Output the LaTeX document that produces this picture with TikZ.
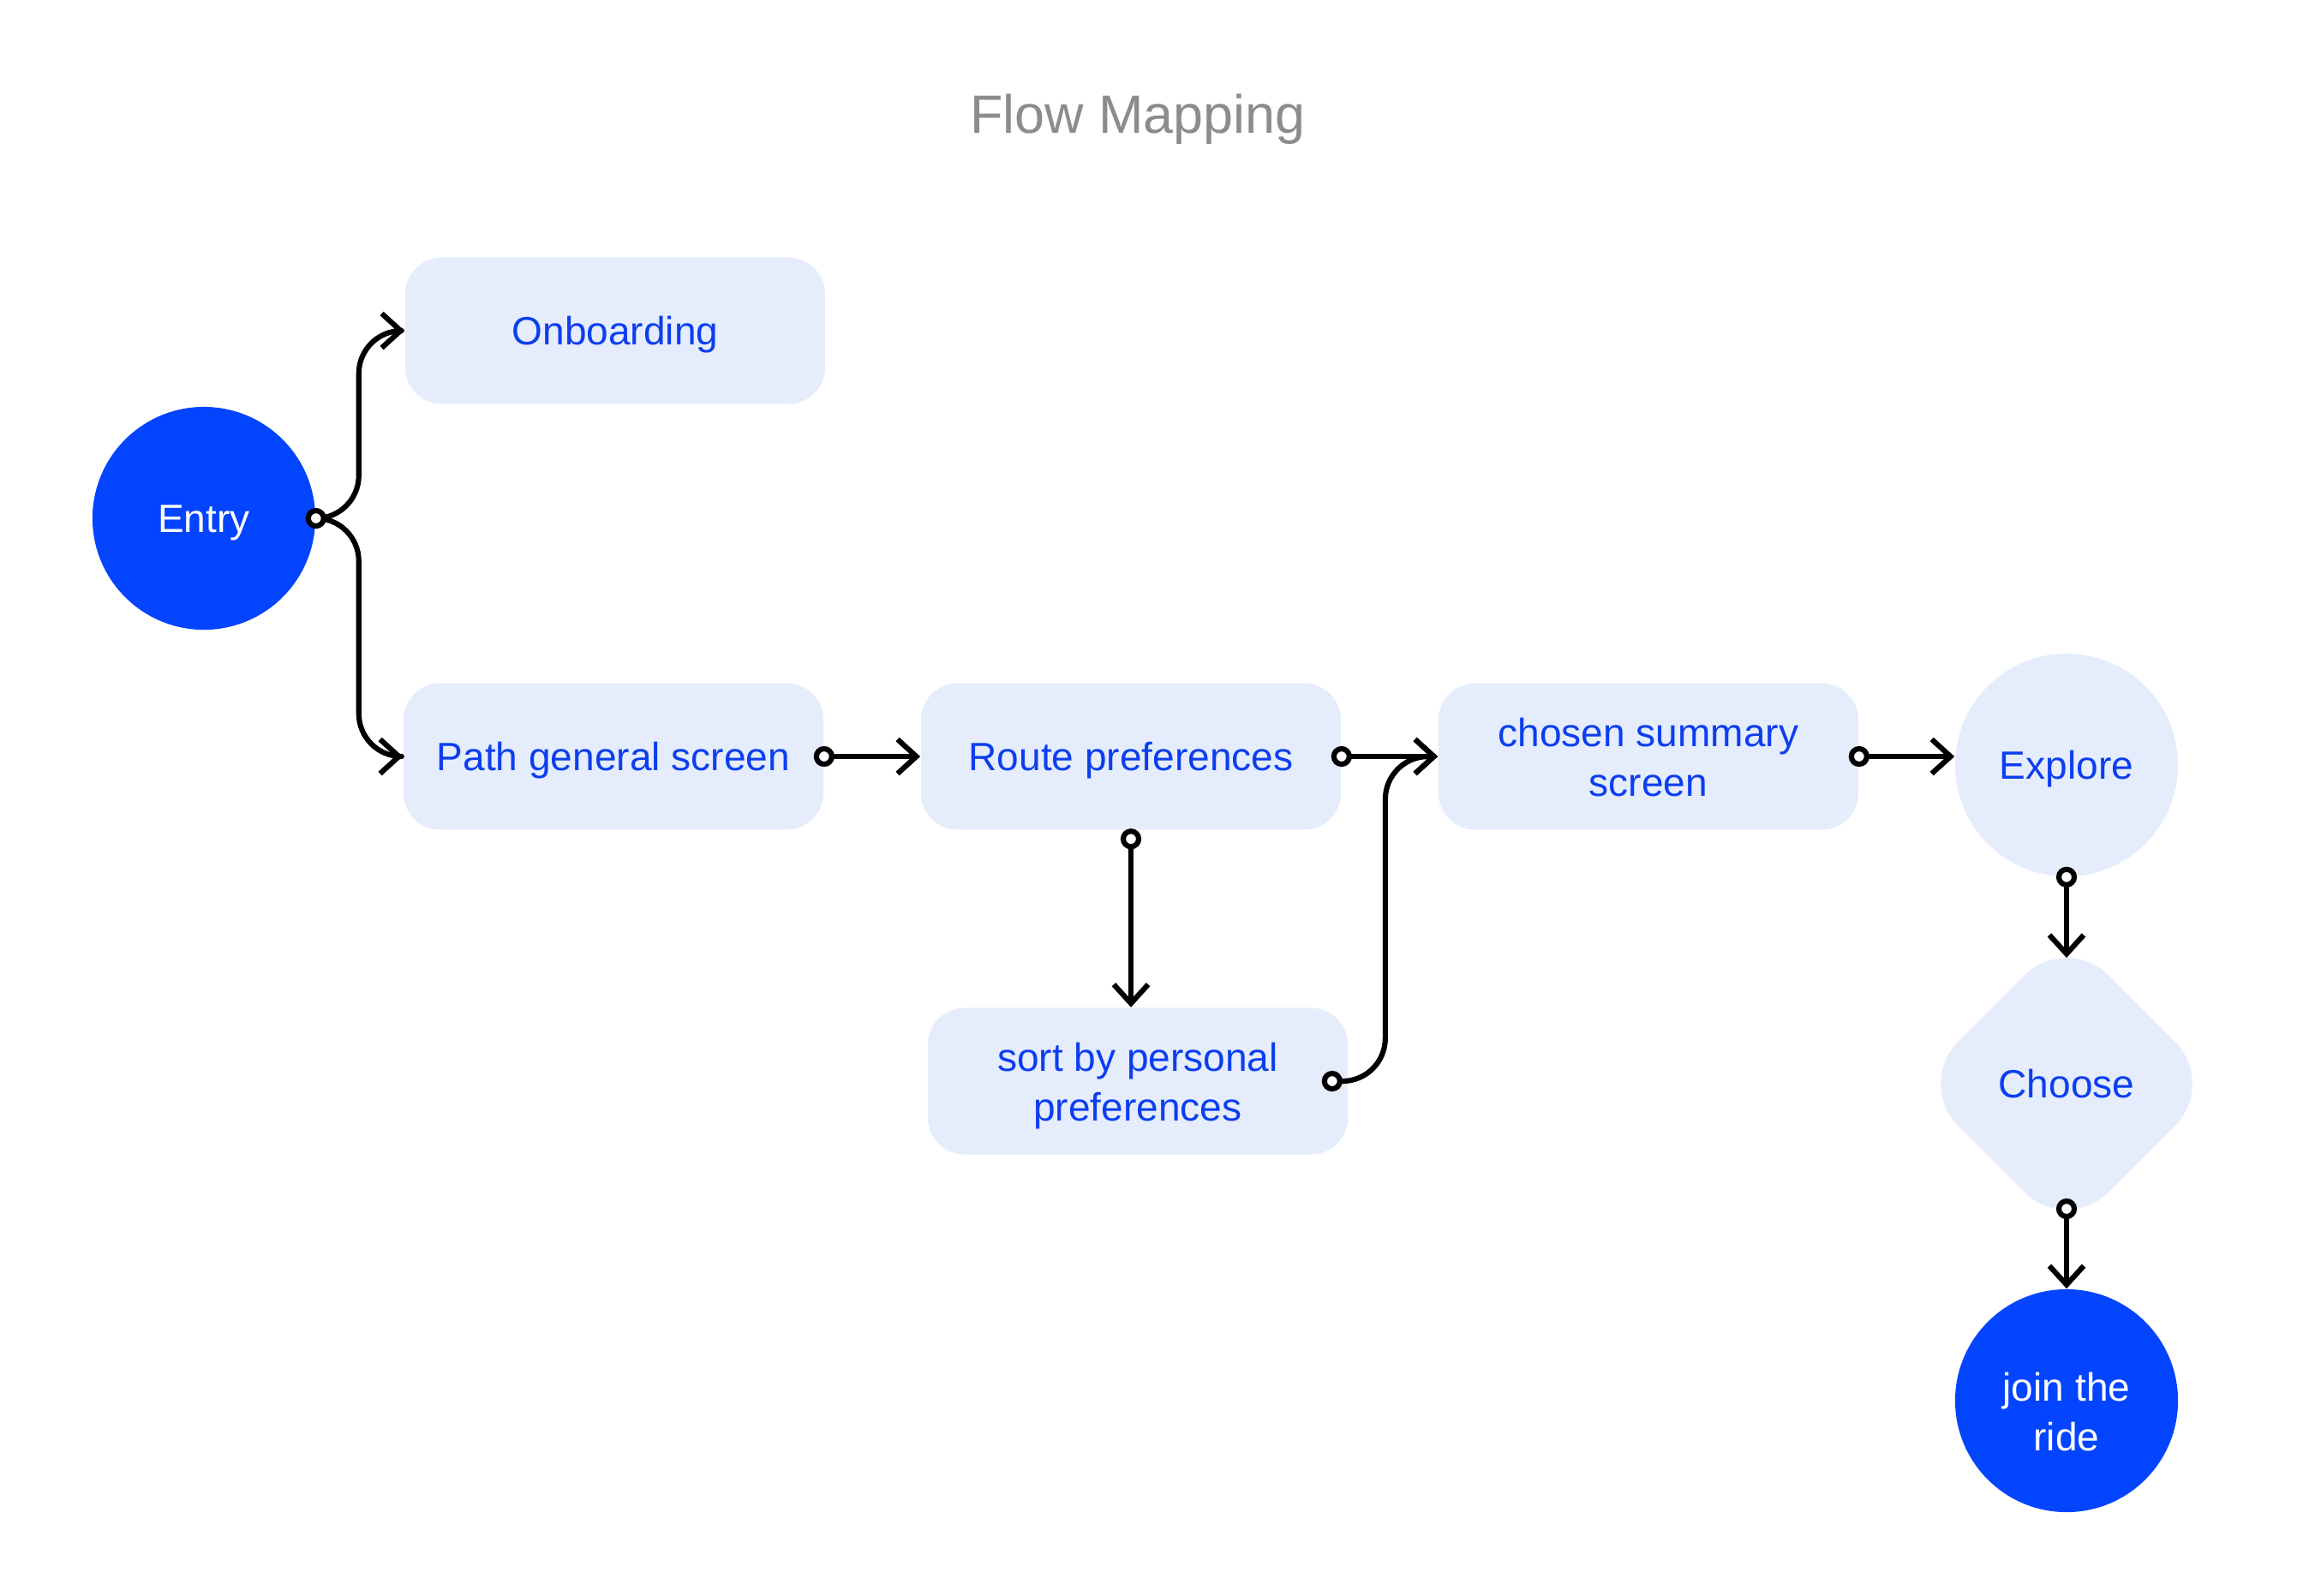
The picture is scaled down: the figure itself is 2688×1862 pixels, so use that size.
\documentclass[tikz,border=0pt]{standalone}
\usepackage{fontspec}
\setmainfont{Liberation Sans}
\usetikzlibrary{arrows.meta,calc,shapes.geometric}
\definecolor{lightfill}{RGB}{229,237,252}
\definecolor{deepblue}{RGB}{3,68,255}
\definecolor{textblue}{RGB}{12,62,240}
\definecolor{titlegray}{RGB}{140,140,140}
\begin{document}
\begin{tikzpicture}[x=0.01cm,y=-0.01cm,
  lbl/.style={font=\fontsize{13.1}{16.5}\selectfont, align=center},
  oneline/.style={text height=9.4pt, text depth=0pt},
  twoline/.style={text height=26.7pt, text depth=0pt},
  box/.style={lbl, fill=lightfill, rounded corners=0.43cm, minimum width=4.9cm, minimum height=1.71cm, text=textblue, inner sep=0pt},
  darkcirc/.style={lbl, circle, fill=deepblue, minimum size=2.6cm, text=white, inner sep=0pt},
  lightcirc/.style={lbl, circle, fill=lightfill, minimum size=2.6cm, text=textblue, inner sep=0pt},
  conn/.style={line width=1.75pt, line cap=round, line join=round, -{Straight Barb[length=0.22cm, width=0.4cm]}},
  port/.style={circle, draw, fill=white, line width=1.75pt, minimum size=0.18cm, inner sep=0pt}
]
\useasboundingbox (0,0) rectangle (2688,1862);

\node[text=titlegray, font=\fontsize{17.9}{20}\selectfont, anchor=base, inner sep=0pt] (title) at (1328,155) {Flow Mapping};

\node[darkcirc, oneline] (entry) at (238,605) {Entry};
\node[box, oneline] (onb) at (718,386) {Onboarding};
\node[box, oneline] (path) at (716,883) {Path general screen};
\node[box, oneline] (route) at (1320,883) {Route preferences};
\node[box, twoline] (sort) at (1328,1262) {sort by personal\\preferences};
\node[box, twoline] (chosen) at (1924,883) {chosen summary\\screen};
\node[lightcirc, oneline] (explore) at (2412,893) {Explore};
\node[lbl, oneline, diamond, aspect=1, fill=lightfill, rounded corners=0.7cm, minimum width=3.52cm, minimum height=3.52cm, inner sep=0pt, text=textblue] (choose) at (2412,1265) {Choose};
\node[darkcirc, text height=33pt, text depth=0pt] (join) at (2412,1635) {join the\\ride};

% ports and bends
\coordinate (pEntry) at (entry.east);
\coordinate (jx) at ($(entry.east)+(50,0)$);
\coordinate (pPath) at (path.east);
\coordinate (pRoute) at (route.east);
\coordinate (pRouteS) at ($(route.south)+(0,10)$);
\coordinate (pSort) at ($(sort.east)+(-19,0)$);
\coordinate (sx) at ($(pSort)+(62,0)$);
\coordinate (pChosen) at (chosen.east);
\coordinate (pExplore) at (explore.south);
\coordinate (chooseTop) at ($(choose.center)+(0,-147)$);
\coordinate (pChoose) at ($(choose.center)+(0,146)$);

\draw[conn, rounded corners=0.5cm] (pEntry) -- (jx) |- (onb.west);
\draw[conn, rounded corners=0.5cm] (pEntry) -- (jx) |- (path.west);
\draw[conn] (pPath) -- (route.west);
\draw[conn] (pRoute) -- (chosen.west);
\draw[conn] (pRouteS) -- (pRouteS |- sort.north);
\draw[conn, rounded corners=0.5cm] (pSort) -- (sx) |- (chosen.west);
\draw[conn] (pChosen) -- (explore.west |- pChosen);
\draw[conn] (pExplore) -- (chooseTop);
\draw[conn] (pChoose) -- (join.north);

\foreach \p in {pEntry,pPath,pRoute,pRouteS,pSort,pChosen,pExplore,pChoose}
  \node[port] at (\p) {};
\end{tikzpicture}
\end{document}
